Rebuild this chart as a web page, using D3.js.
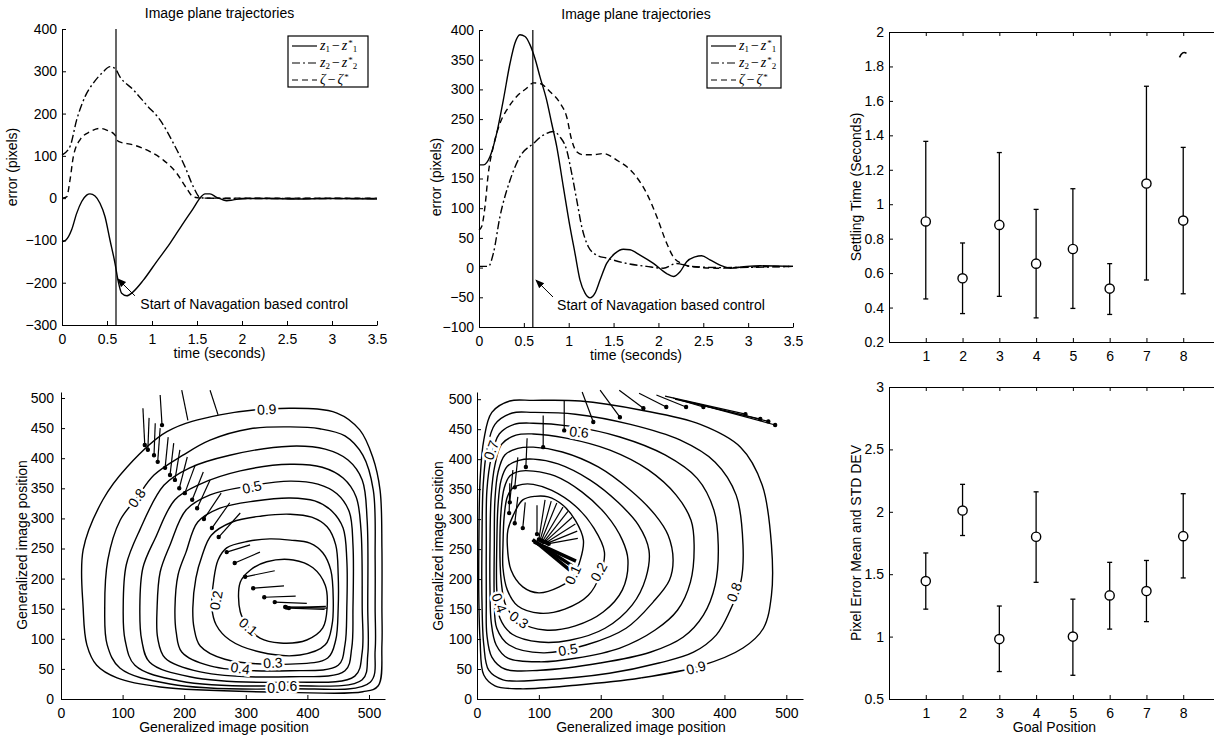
<!DOCTYPE html>
<html>
<head>
<meta charset="utf-8">
<script src="https://cdn.jsdelivr.net/npm/d3@7"></script>
<style>
  body { margin: 0; background: #fff; }
  svg { display: block; font-family: "Liberation Sans", Arial, sans-serif; }
  .axis path, .axis line { stroke: #000; stroke-width: 1; }
  .axis text { font-size: 14px; fill: #000; font-family: "Liberation Sans", Arial, sans-serif; }
  .lbl { font-size: 14px; fill: #000; }
  .leg { font-family: "Liberation Serif", "DejaVu Serif", serif; fill: #000; }
</style>
</head>
<body>
<svg id="chart" width="1214" height="740"></svg>
<script>
// ---- top row: image plane trajectories (time, error) ----
const timeTicks = [0, 0.5, 1, 1.5, 2, 2.5, 3, 3.5];
const err1Ticks = [-300, -200, -100, 0, 100, 200, 300, 400];
const err2Ticks = [-100, -50, 0, 50, 100, 150, 200, 250, 300, 350, 400];
const switchTime = 0.6;
const noteText = 'Start of Navagation based control';

const p1Z1 = [[0,-103],[0.04,-100],[0.107,-75],[0.163,-36],[0.219,-8],[0.274,7],[0.311,10],[0.367,5],[0.422,-12],[0.478,-44],[0.533,-99],[0.589,-154],[0.626,-198],[0.663,-225],[0.719,-231],[0.793,-221],[0.904,-194],[1.052,-150],[1.2,-107],[1.348,-59],[1.459,-24],[1.533,0],[1.589,10],[1.644,10],[1.719,2],[1.83,-6],[1.904,-4],[2.05,-1],[2.27,-1],[2.6,-2],[3.0,-1],[3.5,-2]];
const p1Z2 = [[0,102],[0.089,122],[0.163,185],[0.256,240],[0.348,272],[0.459,299],[0.533,311],[0.589,307],[0.644,287],[0.793,256],[0.941,220],[1.089,185],[1.237,130],[1.367,74],[1.459,27],[1.533,2],[1.6,0],[2,-1],[2.5,-1],[3,-1],[3.5,-1]];
const p1Zeta = [[0,0],[0.052,3],[0.089,43],[0.126,98],[0.2,138],[0.311,157],[0.422,165],[0.496,161],[0.589,149],[0.626,134],[0.793,126],[0.978,110],[1.126,90],[1.274,59],[1.385,23],[1.459,3],[1.55,0],[2,0],[3.5,0]];
const p1Arrow = [[0.81,-231],[0.62,-191]];
const p1NotePos = [0.87,-262];

const p2Z1 = [[0,173],[0.05,173],[0.123,187],[0.197,226],[0.271,282],[0.346,344],[0.401,378],[0.457,392],[0.513,389],[0.569,375],[0.624,352],[0.68,321],[0.754,282],[0.81,243],[0.866,204],[0.94,136],[1.014,69],[1.07,24],[1.126,-21],[1.182,-43],[1.237,-51],[1.293,-43],[1.349,-21],[1.423,7],[1.516,24],[1.609,31],[1.683,30],[1.795,21],[1.944,7],[2.092,-10],[2.166,-15],[2.241,-7],[2.315,10],[2.408,18],[2.482,20],[2.575,13],[2.687,4],[2.798,-1],[2.984,2],[3.133,3],[3.5,2]];
const p2Z2 = [[0,2],[0.104,2],[0.16,24],[0.234,86],[0.346,147],[0.457,187],[0.606,209],[0.717,223],[0.829,229],[0.903,220],[0.977,198],[1.033,159],[1.089,114],[1.145,69],[1.219,35],[1.312,21],[1.423,16],[1.646,7],[1.869,2],[2.055,-1],[2.204,7],[2.352,2],[2.7,0],[3.5,2]];
const p2Zeta = [[0,63],[0.03,69],[0.067,103],[0.104,159],[0.16,204],[0.234,243],[0.308,265],[0.42,288],[0.531,302],[0.606,311],[0.68,310],[0.792,296],[0.903,277],[0.977,254],[1.033,215],[1.089,195],[1.163,190],[1.275,190],[1.386,192],[1.535,181],[1.721,159],[1.869,125],[1.981,86],[2.092,41],[2.166,18],[2.259,7],[2.352,2],[2.65,-1],[3.0,1],[3.5,2]];
const p2Arrow = [[0.825,-49.5],[0.635,-21]];
const p2NotePos = [0.87,-71];

// legend entries: symbol and its index
const legendSymbols = [['z', '1'], ['z', '2'], ['\u03b6', '']];

// ---- right column: statistics per goal position ----
const goals = [1, 2, 3, 4, 5, 6, 7, 8];
const settleMean = [0.90, 0.57, 0.88, 0.655, 0.74, 0.51, 1.12, 0.905];
const settleLow  = [0.45, 0.365, 0.465, 0.34, 0.395, 0.36, 0.56, 0.48];
const settleHigh = [1.365, 0.775, 1.30, 0.97, 1.09, 0.655, 1.685, 1.33];
const settleTicks = [0.2, 0.4, 0.6, 0.8, 1, 1.2, 1.4, 1.6, 1.8, 2];
const settleSpeck = [7.98, 1.87];

const pixMean = [1.445, 2.01, 0.98, 1.80, 1.00, 1.33, 1.365, 1.805];
const pixLow  = [1.22, 1.81, 0.72, 1.435, 0.69, 1.06, 1.12, 1.47];
const pixHigh = [1.67, 2.22, 1.245, 2.16, 1.30, 1.595, 1.61, 2.145];
const pixTicks = [0.5, 1, 1.5, 2, 2.5, 3];

// ---- bottom row: navigation function contours ----
const posTicksX = [0, 100, 200, 300, 400, 500];
const posTicksY = [0, 50, 100, 150, 200, 250, 300, 350, 400, 450, 500];

// levels 0.1 (inner) .. 0.9 (outer)
const contours4 = [
  [[291,145],[304,120],[323,101],[356,93],[399,98],[425,118],[432,151],[429,189],[409,218],[377,231],[334,228],[307,214],[291,194]],
  [[245,151],[248,198],[255,231],[269,251],[304,262],[339,266],[372,264],[404,259],[425,243],[438,214],[442,164],[440,123],[429,90],[388,73],[323,78],[274,98],[252,123]],
  [[214,151],[219,201],[229,238],[244,272],[278,294],[326,304],[372,307],[407,302],[432,286],[446,256],[450,206],[450,151],[446,98],[433,68],[372,58],[266,66],[226,88],[216,118]],
  [[185,151],[190,206],[203,244],[222,294],[258,317],[315,329],[372,334],[412,329],[440,312],[458,284],[464,231],[464,151],[461,90],[450,56],[372,47],[242,55],[196,78],[187,111]],
  [[156,151],[161,211],[177,256],[203,314],[242,339],[307,354],[372,362],[417,357],[448,341],[468,311],[474,256],[474,151],[472,85],[461,47],[372,37],[226,45],[169,68],[157,101]],
  [[128,151],[133,218],[153,267],[185,331],[226,357],[291,379],[372,390],[424,385],[458,367],[479,336],[487,281],[489,151],[489,78],[477,38],[372,28],[209,37],[144,61],[131,98]],
  [[101,151],[106,223],[128,281],[167,355],[209,384],[274,405],[372,420],[429,415],[466,397],[489,364],[497,297],[498,151],[498,73],[489,32],[372,22],[193,30],[120,56],[104,98]],
  [[71,151],[76,231],[96,297],[123,334],[151,372],[198,405],[242,430],[307,449],[372,452],[420,449],[461,437],[490,405],[507,347],[510,231],[510,151],[510,81],[502,28],[372,17],[177,25],[96,51],[75,90]],
  [[36,151],[36,248],[68,331],[107,385],[172,444],[258,472],[377,483],[448,475],[485,447],[506,402],[518,347],[521,250],[521,151],[521,90],[515,22],[490,12],[372,11],[161,20],[91,35],[58,56],[42,90]]
];
const labels4 = [
  ['0.9',334,481,-2],['0.8',123,334,-55],['0.5',310,352,-12],['0.2',252,164,-80],
  ['0.1',304,120,40],['0.4',291,51,8],['0.3',344,60,-3],['0',341,18,0],['0.6',368,22,0]
];
const traj4 = [
  [133,483,136,422],[143,467,141,414],[153,458,151,405],[161,505,164,455],[161,450,157,394],
  [174,435,169,384],[183,425,177,372],[193,414,185,364],[205,402,192,350],[218,389,201,342],
  [231,377,213,331],[242,364,221,317],[260,342,232,299],[274,326,245,284],[291,309,256,269],
  [307,256,269,244],[323,244,282,226],[347,213,299,203],[362,188,312,184],[381,171,330,169],
  [399,159,347,161],[432,151,364,153],[430,154,366,152],[428,149,370,151]
];
const traj4NoDot = [[196,513,206,463],[242,513,255,472]];

const contours5 = [
  [[49,257],[50,282],[58,305],[74,332],[94,338],[115,337],[139,323],[159,298],[172,265],[167,232],[155,203],[133,187],[100,177],[74,187],[55,215]],
  [[42,257],[44,305],[49,337],[58,352],[73,358],[91,358],[121,348],[159,322],[189,285],[206,245],[199,207],[180,173],[142,150],[102,143],[66,155],[49,182],[42,218]],
  [[37,257],[39,315],[44,352],[53,372],[70,380],[91,380],[126,372],[170,345],[209,307],[235,265],[244,232],[235,182],[204,145],[159,122],[110,115],[70,128],[47,155],[39,198]],
  [[32,257],[34,323],[39,365],[49,388],[68,398],[91,400],[131,392],[183,365],[228,328],[261,290],[278,248],[273,202],[251,157],[207,118],[150,98],[102,95],[57,108],[37,135],[32,182]],
  [[28,257],[29,332],[34,378],[45,407],[66,418],[91,420],[138,412],[196,387],[248,348],[288,307],[309,273],[317,232],[311,198],[285,162],[241,118],[176,90],[107,77],[52,90],[32,118],[28,165]],
  [[21,257],[23,340],[29,390],[40,425],[63,440],[91,442],[144,435],[215,415],[277,382],[322,340],[346,298],[351,257],[345,195],[324,148],[288,115],[231,85],[159,68],[102,62],[50,68],[31,90],[23,128],[21,182]],
  [[15,257],[16,348],[23,402],[36,442],[60,458],[91,460],[150,455],[231,437],[304,407],[356,368],[383,315],[390,257],[385,190],[366,140],[333,103],[280,78],[199,60],[102,48],[45,50],[24,70],[16,107],[15,165]],
  [[8,257],[10,357],[16,415],[29,458],[57,477],[91,478],[159,475],[248,458],[328,432],[385,395],[419,340],[430,257],[427,198],[408,145],[387,107],[350,78],[294,60],[214,43],[107,32],[42,32],[19,48],[11,90],[8,165]],
  [[3,257],[5,365],[11,432],[24,478],[53,497],[91,498],[167,497],[264,482],[361,458],[426,420],[461,357],[476,257],[476,173],[463,118],[430,85],[361,55],[264,35],[160,23],[70,17],[29,22],[11,40],[5,98],[3,165]]
];
const labels5 = [
  ['0.6',165,445,5],['0.7',23,415,-70],['0.1',155,207,-65],['0.2',197,212,-60],
  ['0.4',36,160,70],['0.3',68,132,35],['0.5',147,82,-10],['0.8',416,178,-70],['0.9',354,52,-15]
];
const traj5 = [
  [170,512,188,462],[199,515,231,470],[230,515,269,485],[262,510,306,487],[290,507,338,487],
  [317,502,366,487],[304,505,434,475],[320,500,458,467],[337,497,471,463],[353,493,482,457],
  [141,498,141,448],[107,473,107,420],[81,435,79,387],[66,403,61,353],[58,382,53,328],
  [53,360,52,310],[66,337,61,293],[78,328,74,285],[97,323,97,275],
  [110,332,100,266],[120,330,102,265],[129,327,104,264],[139,320,106,263],[147,313,108,262],
  [154,303,110,262],[159,292,112,261],[162,280,114,260],[163,268,116,259]
];
const traj5Thick = [[90,265,154,222],[92,262,160,230],[90,266,150,215]];

// ---------------------------------------------------------------
const svg = d3.select('#chart');
const fmt = d3.format('~g');

svg.append('defs').append('marker')
  .attr('id', 'arrow')
  .attr('viewBox', '0 0 10 10')
  .attr('refX', 9).attr('refY', 5)
  .attr('markerWidth', 9).attr('markerHeight', 9)
  .attr('markerUnits', 'userSpaceOnUse')
  .attr('orient', 'auto')
  .append('path')
  .attr('d', 'M0,1 L10,5 L0,9 Z')
  .attr('fill', '#000');

function drawAxes(x, y, xTicks, yTicks, opts = {}) {
  const g = svg.append('g');
  const [x0, x1] = x.range();
  const [y0, y1] = y.range();

  g.append('g')
    .attr('class', 'axis')
    .attr('transform', `translate(0,${y0})`)
    .call(d3.axisBottom(x).tickValues(xTicks).tickSizeInner(-4).tickSizeOuter(0)
      .tickPadding(9).tickFormat(fmt));

  g.append('g')
    .attr('class', 'axis')
    .attr('transform', `translate(${x0},0)`)
    .call(d3.axisLeft(y).tickValues(yTicks).tickSizeInner(-4).tickSizeOuter(0)
      .tickPadding(opts.yPad || 5).tickFormat(fmt));

  if (opts.box) {
    g.append('g')
      .attr('class', 'axis')
      .attr('transform', `translate(0,${y1})`)
      .call(d3.axisTop(x).tickValues(xTicks).tickSizeInner(-4).tickSizeOuter(0).tickFormat(''));
    g.append('g')
      .attr('class', 'axis')
      .attr('transform', `translate(${x1},0)`)
      .call(d3.axisRight(y).tickValues(yTicks).tickSizeInner(-4).tickSizeOuter(0).tickFormat(''));
  }

  if (opts.title) {
    g.append('text').attr('class', 'lbl')
      .attr('x', (x0 + x1) / 2).attr('y', y1 - 11)
      .attr('text-anchor', 'middle').text(opts.title);
  }
  if (opts.xLabel) {
    g.append('text').attr('class', 'lbl')
      .attr('x', opts.xLabelX || (x0 + x1) / 2).attr('y', y0 + 33)
      .attr('text-anchor', 'middle').text(opts.xLabel);
  }
  if (opts.yLabel) {
    g.append('text').attr('class', 'lbl')
      .attr('transform', `translate(${opts.yLabelX},${opts.yLabelY || (y0 + y1) / 2}) rotate(-90)`)
      .attr('text-anchor', 'middle').text(opts.yLabel);
  }
  return g;
}

// legend label like  z1 - z*1, one text element per row
function legendLabel(g, x, y, sym, sub) {
  const t = g.append('text').attr('class', 'leg').attr('x', x).attr('y', y);
  const part = (s, size, dx, dy, italic) => t.append('tspan')
    .attr('dx', dx).attr('dy', dy)
    .style('font-size', size + 'px')
    .style('font-style', italic ? 'italic' : 'normal')
    .text(s);
  part(sym, 14, 0, 0, true);
  if (sub) part(sub, 9, 0, 2, false);
  part('\u2212', 14, 2, sub ? -2 : 0, false);
  part(sym, 14, 2, 0, true);
  part('*', 9, 1, -4, false);
  if (sub) part(sub, 9, 0, 6, false);
}

// ---- trajectories panels ----
function drawTrajectories(x, y, z1, z2, zeta, arrow, notePos, legendBox) {
  const line = d3.line().x(d => x(d[0])).y(d => y(d[1])).curve(d3.curveMonotoneX);
  const g = svg.append('g').attr('fill', 'none').attr('stroke', '#000').attr('stroke-width', 1.4);

  g.append('path').attr('d', line(z1));
  g.append('path').attr('d', line(z2)).attr('stroke-dasharray', '8,3,2,3');
  g.append('path').attr('d', line(zeta)).attr('stroke-dasharray', '6,4');

  g.append('line')
    .attr('x1', x(switchTime)).attr('x2', x(switchTime))
    .attr('y1', y.range()[0]).attr('y2', y.range()[1])
    .attr('stroke-width', 1.2);

  g.append('line')
    .attr('x1', x(arrow[0][0])).attr('y1', y(arrow[0][1]))
    .attr('x2', x(arrow[1][0])).attr('y2', y(arrow[1][1]))
    .attr('stroke-width', 1)
    .attr('marker-end', 'url(#arrow)');

  svg.append('text').attr('class', 'lbl')
    .attr('x', x(notePos[0])).attr('y', y(notePos[1]))
    .text(noteText);

  // legend
  const [lx, ly, lw, lh] = legendBox;
  const lg = svg.append('g');
  lg.append('rect').attr('x', lx).attr('y', ly).attr('width', lw).attr('height', lh)
    .attr('fill', '#fff').attr('stroke', '#000').attr('stroke-width', 1.2);
  const dashes = [null, '8,3,2,3', '6,4'];
  legendSymbols.forEach(([sym, sub], i) => {
    const ry = ly + 10 + i * 17;
    lg.append('line').attr('x1', lx + 4).attr('x2', lx + 29).attr('y1', ry).attr('y2', ry)
      .attr('stroke', '#000').attr('stroke-width', 1.2)
      .attr('stroke-dasharray', dashes[i]);
    legendLabel(lg, lx + 32, ry + 4, sym, sub);
  });
}

const x1 = d3.scaleLinear().domain([0, 3.5]).range([62, 377]);
const y1 = d3.scaleLinear().domain([-300, 400]).range([325, 29]);
drawAxes(x1, y1, timeTicks, err1Ticks, {
  title: 'Image plane trajectories', xLabel: 'time (seconds)',
  yLabel: 'error (pixels)', yLabelX: 17, yLabelY: 167
});
drawTrajectories(x1, y1, p1Z1, p1Z2, p1Zeta, p1Arrow, p1NotePos, [288, 36, 80, 51]);

const x2 = d3.scaleLinear().domain([0, 3.5]).range([479, 793]);
const y2 = d3.scaleLinear().domain([-100, 400]).range([327, 30]);
drawAxes(x2, y2, timeTicks, err2Ticks, {
  title: 'Image plane trajectories', xLabel: 'time (seconds)',
  yLabel: 'error (pixels)', yLabelX: 441, yLabelY: 177
});
drawTrajectories(x2, y2, p2Z1, p2Z2, p2Zeta, p2Arrow, p2NotePos, [707, 36, 74, 52]);

// ---- error bar panels ----
function drawErrorBars(x, y, mean, low, high) {
  const g = svg.append('g').attr('stroke', '#000').attr('stroke-width', 1.3).attr('fill', 'none');
  goals.forEach((k, i) => {
    const cx = x(k);
    g.append('line').attr('x1', cx).attr('x2', cx).attr('y1', y(low[i])).attr('y2', y(high[i]));
    [low[i], high[i]].forEach(v => {
      g.append('line').attr('x1', cx - 2.5).attr('x2', cx + 2.5).attr('y1', y(v)).attr('y2', y(v));
    });
    g.append('circle').attr('cx', cx).attr('cy', y(mean[i])).attr('r', 4.6)
      .attr('fill', '#fff').attr('stroke-width', 1.4);
  });
}

const x3 = d3.scaleLinear().domain([0, 9]).range([889, 1220]);
const y3 = d3.scaleLinear().domain([0.2, 2]).range([342, 32]);
drawAxes(x3, y3, goals, settleTicks, {
  box: true, yLabel: 'Settling Time (Seconds)', yLabelX: 861, yLabelY: 187
});
drawErrorBars(x3, y3, settleMean, settleLow, settleHigh);
svg.append('path')
  .attr('d', `M${x3(settleSpeck[0]) - 3},${y3(settleSpeck[1]) + 3} Q${x3(settleSpeck[0])},${y3(settleSpeck[1]) - 4} ${x3(settleSpeck[0]) + 4},${y3(settleSpeck[1]) - 1}`)
  .attr('fill', 'none').attr('stroke', '#000').attr('stroke-width', 1.6);

const x6 = d3.scaleLinear().domain([0, 9]).range([889, 1220]);
const y6 = d3.scaleLinear().domain([0.5, 3]).range([699, 387]);
drawAxes(x6, y6, goals, pixTicks, {
  box: true, xLabel: 'Goal Position', xLabelX: x6(4.5),
  yLabel: 'Pixel Error Mean and STD DEV', yLabelX: 861, yLabelY: 543
});
drawErrorBars(x6, y6, pixMean, pixLow, pixHigh);

// ---- contour panels ----
function drawContours(x, y, contours, labels, traj, trajPlain, thick) {
  const line = d3.line().x(d => x(d[0])).y(d => y(d[1]))
    .curve(d3.curveCatmullRomClosed.alpha(0.5));
  const g = svg.append('g').attr('fill', 'none').attr('stroke', '#000').attr('stroke-width', 1.4);

  contours.forEach(c => g.append('path').attr('d', line(c)));

  const tg = svg.append('g').attr('stroke', '#000').attr('stroke-width', 1.2);
  traj.forEach(s => {
    tg.append('line').attr('x1', x(s[0])).attr('y1', y(s[1])).attr('x2', x(s[2])).attr('y2', y(s[3]));
    tg.append('circle').attr('cx', x(s[2])).attr('cy', y(s[3])).attr('r', 1.6).attr('fill', '#000');
  });
  (trajPlain || []).forEach(s => {
    tg.append('line').attr('x1', x(s[0])).attr('y1', y(s[1])).attr('x2', x(s[2])).attr('y2', y(s[3]));
  });
  (thick || []).forEach(s => {
    tg.append('line').attr('x1', x(s[0])).attr('y1', y(s[1])).attr('x2', x(s[2])).attr('y2', y(s[3]))
      .attr('stroke-width', 3.5);
  });

  labels.forEach(([txt, lx, ly, ang]) => {
    svg.append('text').attr('class', 'lbl')
      .attr('transform', `translate(${x(lx)},${y(ly)}) rotate(${ang})`)
      .attr('text-anchor', 'middle').attr('dy', '0.35em')
      .attr('stroke', '#fff').attr('stroke-width', 5).attr('paint-order', 'stroke')
      .text(txt);
  });
}

const x4 = d3.scaleLinear().domain([0, 526]).range([61, 385]);
const y4 = d3.scaleLinear().domain([0, 510]).range([699, 392]);
drawContours(x4, y4, contours4, labels4, traj4, traj4NoDot);
drawAxes(x4, y4, posTicksX, posTicksY, {
  yPad: 7, xLabel: 'Generalized image position', xLabelX: 224,
  yLabel: 'Generalized image position', yLabelX: 27, yLabelY: 545
});

const x5 = d3.scaleLinear().domain([0, 527]).range([477, 803]);
const y5 = d3.scaleLinear().domain([0, 512]).range([699, 392]);
drawContours(x5, y5, contours5, labels5, traj5, [], traj5Thick);
drawAxes(x5, y5, posTicksX, posTicksY, {
  yPad: 5, xLabel: 'Generalized image position', xLabelX: 641,
  yLabel: 'Generalized image position', yLabelX: 443, yLabelY: 546
});
</script>
</body>
</html>
